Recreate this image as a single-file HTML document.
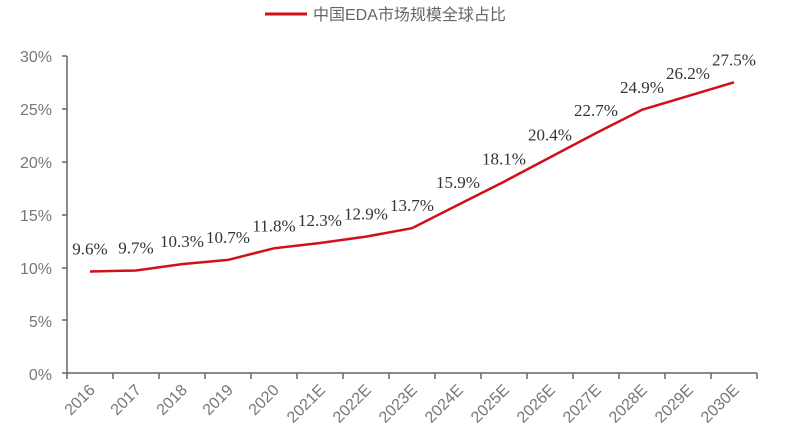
<!DOCTYPE html>
<html><head><meta charset="utf-8"><style>body{margin:0;background:#fff}svg{display:block}</style></head>
<body>
<svg width="800" height="447" xmlns="http://www.w3.org/2000/svg">
<rect width="800" height="447" fill="#fff"/>
<line x1="265" y1="14" x2="307" y2="14" stroke="#d0101b" stroke-width="3"/>
<text x="313" y="20" font-family="Liberation Sans, Noto Sans CJK SC, sans-serif" font-size="16" fill="#666">中国EDA市场规模全球占比</text>
<g font-family="Liberation Sans, sans-serif" font-size="16" fill="#777" text-anchor="end">
<text x="52" y="62">30%</text><text x="52" y="115">25%</text><text x="52" y="168">20%</text>
<text x="52" y="221">15%</text><text x="52" y="274">10%</text><text x="52" y="327">5%</text><text x="52" y="380">0%</text>
</g>
<g stroke="#666" stroke-width="1.5">
<line x1="67" y1="56" x2="67" y2="373"/>
<line x1="62" y1="56" x2="67" y2="56"/><line x1="62" y1="109" x2="67" y2="109"/><line x1="62" y1="162" x2="67" y2="162"/><line x1="62" y1="215" x2="67" y2="215"/><line x1="62" y1="268" x2="67" y2="268"/><line x1="62" y1="320" x2="67" y2="320"/>
<line x1="62" y1="373" x2="757" y2="373"/>
</g>
<g id="ticks" stroke="#666" stroke-width="1.5"></g>
<g id="xl" font-family="Liberation Sans, sans-serif" font-size="16" fill="#777" text-anchor="end"></g>
<polyline id="ln" fill="none" stroke="#d0101b" stroke-width="2.5"/>
<g id="dl" font-family="Liberation Serif, serif" font-size="17" fill="#333" text-anchor="middle"></g>
<script>
var ns="http://www.w3.org/2000/svg";
var cats=["2016","2017","2018","2019","2020","2021E","2022E","2023E","2024E","2025E","2026E","2027E","2028E","2029E","2030E"];
var v=[9.6,9.7,10.3,10.7,11.8,12.3,12.9,13.7,15.9,18.1,20.4,22.7,24.9,26.2,27.5];
var pts=[];
for(var i=0;i<=15;i++){var t=document.createElementNS(ns,"line");var x=67+46*i;t.setAttribute("x1",x);t.setAttribute("x2",x);t.setAttribute("y1",373);t.setAttribute("y2",379);document.getElementById("ticks").appendChild(t);}
for(var i=0;i<15;i++){var x=90+46*i,y=373-v[i]*10.57;pts.push(x+","+y.toFixed(1));
var t=document.createElementNS(ns,"text");t.setAttribute("transform","translate("+(x+6)+",391) rotate(-45)");t.textContent=cats[i];document.getElementById("xl").appendChild(t);
var d=document.createElementNS(ns,"text");d.setAttribute("x",x);d.setAttribute("y",y-17);d.textContent=v[i].toFixed(1)+"%";document.getElementById("dl").appendChild(d);}
document.getElementById("ln").setAttribute("points",pts.join(" "));
</script>
</svg>
</body></html>
